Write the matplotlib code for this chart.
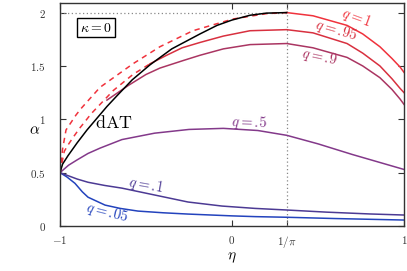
import numpy as np
import matplotlib
matplotlib.use('Agg')
import matplotlib.pyplot as plt

plt.rcParams['mathtext.fontset'] = 'cm'
plt.rcParams['font.family'] = 'serif'
plt.rcParams['font.serif'] = ['DejaVu Serif']

# de Almeida-Thouless line
eta_dat = [-1, -0.985, -0.953, -0.9, -0.843, -0.727, -0.669, -0.58, -0.477, -0.35, -0.186, -0.087, 0.0, 0.105, 0.2, 0.318]
alpha_dat = [0.5, 0.58, 0.66, 0.78, 0.90, 1.12, 1.22, 1.37, 1.51, 1.66, 1.80, 1.88, 1.93, 1.975, 1.995, 2.0]

# unstable (dashed) branches
eta_q1_d = [-1, -0.985, -0.965, -0.936, -0.907, -0.878, -0.767, -0.576, -0.419, -0.227, 0.006, 0.2, 0.318]
alpha_q1_d = [0.5, 0.72, 0.90, 0.97, 1.04, 1.10, 1.30, 1.52, 1.68, 1.83, 1.94, 1.99, 2.0]
eta_q95_d = [-1, -0.975, -0.953, -0.924, -0.884, -0.849, -0.82, -0.69, -0.576, -0.477]
alpha_q95_d = [0.5, 0.7, 0.76, 0.83, 0.92, 0.99, 1.05, 1.27, 1.42, 1.52]

# stable (solid) branches
eta_q1 = [0.318, 0.471, 0.669, 0.76, 0.86, 0.93, 0.977, 1.0]
alpha_q1 = [2.0, 1.97, 1.88, 1.80, 1.68, 1.57, 1.49, 1.44]
eta_q95 = [-0.477, -0.38, -0.29, -0.186, -0.05, 0.105, 0.318, 0.471, 0.669, 0.76, 0.86, 0.93, 0.977, 1.0]
alpha_q95 = [1.52, 1.60, 1.67, 1.72, 1.78, 1.83, 1.84, 1.81, 1.71, 1.62, 1.50, 1.38, 1.29, 1.25]
eta_q9 = [-0.727, -0.6, -0.5, -0.419, -0.285, -0.186, -0.05, 0.105, 0.318, 0.471, 0.669, 0.76, 0.86, 0.93, 0.977, 1.0]
alpha_q9 = [1.18, 1.32, 1.42, 1.48, 1.55, 1.60, 1.66, 1.70, 1.71, 1.67, 1.58, 1.50, 1.39, 1.28, 1.19, 1.14]
eta_q5 = [-1, -0.95, -0.9, -0.837, -0.767, -0.64, -0.45, -0.25, -0.05, 0.15, 0.318, 0.5, 0.7, 0.85, 1.0]
alpha_q5 = [0.5, 0.57, 0.62, 0.68, 0.73, 0.81, 0.87, 0.905, 0.915, 0.895, 0.85, 0.77, 0.67, 0.60, 0.53]
eta_q1b = [-1, -0.9, -0.837, -0.74, -0.64, -0.448, -0.256, -0.058, 0.134, 0.318, 0.55, 0.8, 1.0]
alpha_q1b = [0.5, 0.44, 0.41, 0.38, 0.355, 0.29, 0.225, 0.187, 0.165, 0.15, 0.13, 0.113, 0.103]
eta_q05 = [-1, -0.96, -0.913, -0.87, -0.837, -0.738, -0.65, -0.547, -0.4, -0.256, 0.0, 0.134, 0.318, 0.6, 1.0]
alpha_q05 = [0.5, 0.46, 0.40, 0.32, 0.27, 0.196, 0.165, 0.14, 0.124, 0.112, 0.095, 0.088, 0.082, 0.07, 0.056]

c_q1 = '#f0323c'
c_q95 = '#d8303f'
c_q9 = '#aa3562'
c_q5 = '#83398a'
c_q1b = '#4c3a94'
c_q05 = '#2343bd'

fig = plt.figure(figsize=(4.07, 2.71), dpi=100)
ax = fig.add_axes([0.1474, 0.166, 0.8452, 0.823])

ip = 1 / np.pi
ax.plot([-1, ip], [2, 2], color='#888888', lw=0.9, ls=(0, (1, 2)))
ax.axvline(ip, color='#888888', lw=0.9, ls=(0, (1, 2)))

lw = 1.1
ax.plot(eta_q05, alpha_q05, color=c_q05, lw=lw)
ax.plot(eta_q1b, alpha_q1b, color=c_q1b, lw=lw)
ax.plot(eta_q5, alpha_q5, color=c_q5, lw=lw)
ax.plot(eta_q9, alpha_q9, color=c_q9, lw=lw)
ax.plot(eta_q95, alpha_q95, color=c_q95, lw=lw)
ax.plot(eta_q1, alpha_q1, color=c_q1, lw=lw)
ax.plot(eta_q95_d, alpha_q95_d, color=c_q1, lw=lw, ls=(0, (3.5, 3)))
ax.plot(eta_q1_d, alpha_q1_d, color=c_q1, lw=lw, ls=(0, (3.5, 3)))
ax.plot(eta_dat, alpha_dat, color='black', lw=lw)

ax.text(0.727, 1.95, r'$q{=}1$', color=c_q1, fontsize=10.5, rotation=-20, ha='center', va='center')
ax.text(0.605, 1.83, r'$q{=}.\!95$', color=c_q95, fontsize=10.5, rotation=-16, ha='center', va='center')
ax.text(0.506, 1.58, r'$q{=}.\!9$', color=c_q9, fontsize=10.5, rotation=-12, ha='center', va='center')
ax.text(0.099, 0.97, r'$q{=}.\!5$', color=c_q5, fontsize=10.5, rotation=-2, ha='center', va='center')
ax.text(-0.5, 0.383, r'$q{=}.\!1$', color=c_q1b, fontsize=10.5, rotation=-10, ha='center', va='center')
ax.text(-0.727, 0.131, r'$q{=}.\!05$', color=c_q05, fontsize=10.5, rotation=-14, ha='center', va='center')
ax.text(-0.686, 0.963, r'$\mathrm{dAT}$', color='black', fontsize=13, ha='center', va='center')
ax.text(-0.791, 1.86, r'$\kappa{=}0$', color='black', fontsize=10, ha='center', va='center',
        bbox=dict(boxstyle='square,pad=0.2', fc='white', ec='black', lw=1.0))

ax.set_xlim(-1, 1)
ax.set_ylim(0, 2.09)
ax.set_xticks([-1, 0, ip, 1])
ax.set_xticklabels([r'$\mathrm{-1}$', r'$0$', r'$1/\pi$', r'$1$'])
ax.set_yticks([0, 0.5, 1, 1.5, 2])
ax.set_yticklabels([r'$0$', r'$0.5$', r'$1$', r'$1.5$', r'$2$'])
ax.tick_params(direction='in', top=True, right=True, length=4, width=0.8, labelsize=8, colors='#333333')
ax.tick_params(axis='y', pad=10)
ax.tick_params(axis='x', pad=6)
for s in ax.spines.values():
    s.set_linewidth(1.0)
    s.set_color('#333333')

fig.text(35 / 407, 1 - 130 / 271, r'$\alpha$', fontsize=11, ha='center', va='center')
fig.text(232 / 407, 1 - 258 / 271, r'$\eta$', fontsize=11, ha='center', va='center')

fig.savefig('out.png', dpi=100)
